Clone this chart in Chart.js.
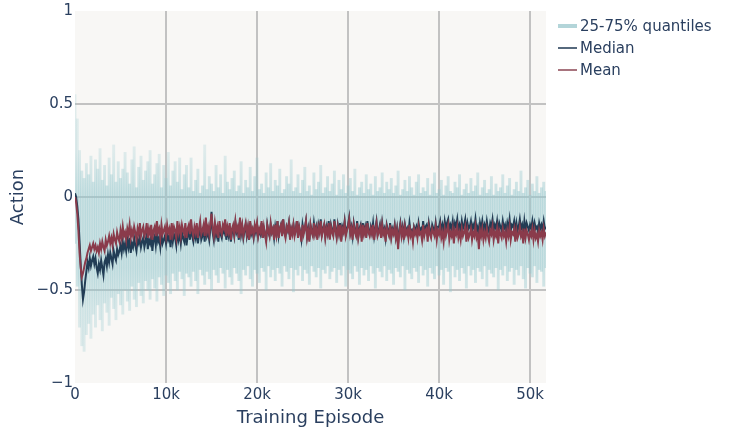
<!DOCTYPE html>
<html>
<head>
<meta charset="utf-8">
<script src="https://cdn.jsdelivr.net/npm/chart.js@4.4.1/dist/chart.umd.min.js"></script>
<style>
  html, body { margin: 0; padding: 0; background: #ffffff; }
  #wrap { position: relative; width: 732px; height: 434px; }
  canvas { display: block; }
</style>
</head>
<body>
<div id="wrap"><canvas id="c" width="732" height="434"></canvas></div>
<script>
// ---------------- data ----------------
const LINE_STEP = 125; // episodes between samples of median / mean
const BAND_STEP = 250; // episodes between samples of the quantile band

const median = [
  0.02,0.00,-0.05,-0.12,-0.24,-0.36,-0.47,-0.55,-0.51,-0.45,-0.40,-0.35,-0.38,-0.33,-0.37,-0.34,-0.32,-0.36,-0.33,-0.38,
  -0.41,-0.36,-0.39,-0.34,-0.38,-0.42,-0.35,-0.33,-0.37,-0.31,-0.35,-0.30,-0.33,-0.36,-0.29,-0.32,-0.34,-0.28,-0.31,-0.29,
  -0.26,-0.30,-0.24,-0.28,-0.25,-0.29,-0.23,-0.27,-0.22,-0.30,-0.25,-0.27,-0.22,-0.26,-0.29,-0.23,-0.25,-0.21,-0.27,-0.24,
  -0.22,-0.27,-0.24,-0.20,-0.28,-0.23,-0.25,-0.21,-0.29,-0.23,-0.21,-0.26,-0.19,-0.24,-0.22,-0.27,-0.20,-0.25,-0.23,-0.21,
  -0.25,-0.19,-0.23,-0.21,-0.27,-0.18,-0.24,-0.20,-0.22,-0.26,-0.17,-0.23,-0.20,-0.25,-0.19,-0.22,-0.24,-0.18,-0.26,-0.21,
  -0.18,-0.23,-0.15,-0.21,-0.24,-0.19,-0.22,-0.17,-0.25,-0.20,-0.16,-0.23,-0.21,-0.18,-0.24,-0.13,-0.21,-0.19,-0.23,-0.17,
  -0.08,-0.19,-0.23,-0.16,-0.21,-0.18,-0.24,-0.15,-0.20,-0.22,-0.17,-0.19,-0.14,-0.23,-0.18,-0.21,-0.16,-0.24,-0.19,-0.17,
  -0.21,-0.14,-0.19,-0.17,-0.23,-0.12,-0.20,-0.16,-0.22,-0.18,-0.15,-0.21,-0.17,-0.23,-0.14,-0.20,-0.18,-0.22,-0.16,-0.19,
  -0.15,-0.21,-0.18,-0.20,-0.14,-0.22,-0.17,-0.20,-0.23,-0.15,-0.19,-0.21,-0.15,-0.19,-0.17,-0.22,-0.16,-0.20,-0.13,-0.21,
  -0.17,-0.15,-0.20,-0.12,-0.19,-0.21,-0.16,-0.18,-0.14,-0.22,-0.17,-0.19,-0.15,-0.20,-0.18,-0.13,-0.21,-0.16,-0.19,-0.23,
  -0.15,-0.19,-0.17,-0.13,-0.21,-0.17,-0.23,-0.15,-0.18,-0.20,-0.14,-0.19,-0.16,-0.22,-0.15,-0.18,-0.12,-0.20,-0.17,-0.15,
  -0.21,-0.16,-0.19,-0.13,-0.22,-0.15,-0.18,-0.20,-0.12,-0.17,-0.21,-0.15,-0.19,-0.14,-0.23,-0.16,-0.18,-0.13,-0.20,-0.17,
  -0.15,-0.11,-0.19,-0.16,-0.21,-0.14,-0.18,-0.20,-0.13,-0.21,-0.17,-0.15,-0.22,-0.14,-0.19,-0.16,-0.21,-0.13,-0.18,-0.20,
  -0.16,-0.19,-0.14,-0.21,-0.17,-0.13,-0.20,-0.18,-0.15,-0.21,-0.14,-0.19,-0.17,-0.22,-0.15,-0.18,-0.20,-0.14,-0.21,-0.17,
  -0.19,-0.15,-0.21,-0.17,-0.25,-0.18,-0.14,-0.20,-0.16,-0.21,-0.15,-0.19,-0.17,-0.20,-0.14,-0.19,-0.18,-0.22,-0.16,-0.18,
  -0.16,-0.20,-0.14,-0.18,-0.17,-0.21,-0.13,-0.19,-0.16,-0.15,-0.21,-0.14,-0.18,-0.20,-0.15,-0.17,-0.19,-0.14,-0.20,-0.16,
  -0.16,-0.13,-0.18,-0.15,-0.19,-0.13,-0.17,-0.14,-0.12,-0.18,-0.15,-0.17,-0.13,-0.19,-0.14,-0.16,-0.12,-0.18,-0.15,-0.18,
  -0.13,-0.17,-0.15,-0.12,-0.19,-0.14,-0.17,-0.16,-0.13,-0.18,-0.15,-0.17,-0.12,-0.18,-0.16,-0.22,-0.14,-0.17,-0.13,-0.18,
  -0.15,-0.18,-0.13,-0.17,-0.19,-0.14,-0.16,-0.12,-0.18,-0.15,-0.17,-0.13,-0.19,-0.14,-0.16,-0.18,-0.13,-0.17,-0.15,-0.19,
  -0.14,-0.17,-0.12,-0.18,-0.15,-0.16,-0.13,-0.19,-0.14,-0.18,-0.16,-0.12,-0.17,-0.15,-0.20,-0.13,-0.18,-0.14,-0.16,-0.18,
  -0.15,-0.17,-0.13,-0.18,-0.14,-0.17,-0.16,-0.19,-0.14,-0.17,-0.15,-0.18,-0.13,-0.17,-0.16
];

const mean = [
  0.00,-0.03,-0.09,-0.18,-0.30,-0.38,-0.43,-0.41,-0.38,-0.35,-0.33,-0.30,-0.28,-0.26,-0.29,-0.27,-0.25,-0.28,-0.26,-0.29,
  -0.27,-0.30,-0.25,-0.28,-0.24,-0.27,-0.29,-0.23,-0.26,-0.24,-0.21,-0.25,-0.22,-0.26,-0.20,-0.23,-0.25,-0.19,-0.22,-0.24,
  -0.18,-0.22,-0.16,-0.21,-0.19,-0.23,-0.17,-0.20,-0.15,-0.22,-0.18,-0.21,-0.16,-0.19,-0.23,-0.17,-0.20,-0.14,-0.21,-0.18,
  -0.16,-0.21,-0.19,-0.14,-0.22,-0.17,-0.20,-0.15,-0.23,-0.18,-0.16,-0.21,-0.13,-0.19,-0.17,-0.22,-0.15,-0.20,-0.18,-0.16,
  -0.21,-0.15,-0.19,-0.17,-0.23,-0.14,-0.20,-0.16,-0.18,-0.22,-0.13,-0.19,-0.16,-0.21,-0.15,-0.18,-0.20,-0.14,-0.22,-0.17,
  -0.15,-0.20,-0.12,-0.18,-0.21,-0.16,-0.19,-0.14,-0.22,-0.17,-0.13,-0.20,-0.18,-0.15,-0.21,-0.11,-0.19,-0.16,-0.20,-0.14,
  -0.09,-0.17,-0.21,-0.14,-0.19,-0.16,-0.22,-0.13,-0.18,-0.20,-0.15,-0.17,-0.12,-0.21,-0.16,-0.19,-0.14,-0.23,-0.17,-0.15,
  -0.20,-0.13,-0.18,-0.16,-0.22,-0.11,-0.19,-0.15,-0.21,-0.17,-0.14,-0.20,-0.16,-0.23,-0.13,-0.19,-0.17,-0.21,-0.15,-0.18,
  -0.14,-0.21,-0.17,-0.19,-0.13,-0.22,-0.16,-0.20,-0.24,-0.15,-0.18,-0.21,-0.14,-0.19,-0.17,-0.23,-0.15,-0.20,-0.13,-0.22,
  -0.17,-0.15,-0.21,-0.12,-0.19,-0.22,-0.16,-0.18,-0.14,-0.23,-0.17,-0.20,-0.15,-0.21,-0.18,-0.13,-0.22,-0.16,-0.19,-0.24,
  -0.15,-0.20,-0.17,-0.13,-0.22,-0.18,-0.24,-0.15,-0.19,-0.21,-0.14,-0.20,-0.17,-0.23,-0.16,-0.19,-0.13,-0.21,-0.18,-0.15,
  -0.22,-0.17,-0.20,-0.14,-0.23,-0.16,-0.19,-0.21,-0.13,-0.18,-0.22,-0.16,-0.20,-0.15,-0.24,-0.17,-0.19,-0.14,-0.21,-0.18,
  -0.16,-0.12,-0.20,-0.17,-0.23,-0.15,-0.19,-0.21,-0.14,-0.22,-0.18,-0.16,-0.24,-0.15,-0.20,-0.17,-0.22,-0.14,-0.19,-0.21,
  -0.17,-0.20,-0.15,-0.23,-0.18,-0.14,-0.21,-0.19,-0.16,-0.22,-0.15,-0.20,-0.18,-0.24,-0.16,-0.19,-0.21,-0.15,-0.22,-0.18,
  -0.20,-0.16,-0.22,-0.18,-0.28,-0.19,-0.15,-0.21,-0.17,-0.23,-0.16,-0.20,-0.18,-0.22,-0.15,-0.21,-0.19,-0.24,-0.17,-0.20,
  -0.18,-0.22,-0.16,-0.20,-0.19,-0.23,-0.15,-0.21,-0.18,-0.17,-0.24,-0.16,-0.20,-0.22,-0.17,-0.19,-0.21,-0.16,-0.23,-0.18,
  -0.20,-0.16,-0.22,-0.19,-0.24,-0.17,-0.21,-0.18,-0.15,-0.23,-0.19,-0.21,-0.17,-0.25,-0.18,-0.20,-0.16,-0.22,-0.19,-0.23,
  -0.17,-0.21,-0.19,-0.16,-0.24,-0.18,-0.22,-0.20,-0.17,-0.23,-0.19,-0.21,-0.16,-0.22,-0.20,-0.28,-0.18,-0.21,-0.17,-0.23,
  -0.19,-0.22,-0.17,-0.21,-0.24,-0.18,-0.20,-0.16,-0.23,-0.19,-0.21,-0.17,-0.25,-0.18,-0.20,-0.22,-0.17,-0.21,-0.19,-0.24,
  -0.18,-0.21,-0.16,-0.23,-0.19,-0.20,-0.17,-0.24,-0.18,-0.22,-0.20,-0.16,-0.21,-0.19,-0.25,-0.17,-0.22,-0.18,-0.20,-0.23,
  -0.19,-0.21,-0.17,-0.23,-0.18,-0.22,-0.20,-0.24,-0.18,-0.21,-0.19,-0.23,-0.17,-0.21,-0.19
];

const q75 = [
  0.55,0.42,0.25,0.14,0.10,0.18,0.12,0.22,0.08,0.20,
  0.15,0.26,0.09,0.17,0.06,0.21,0.12,0.28,0.08,0.19,
  0.10,0.15,0.24,0.13,0.07,0.20,0.27,0.05,0.16,0.22,
  0.09,0.14,0.19,0.25,0.07,0.12,0.18,0.23,0.05,0.17,
  0.10,0.24,0.06,0.14,0.19,0.08,0.21,0.04,0.12,0.17,
  0.05,0.21,0.03,0.09,0.15,0.02,0.06,0.28,0.04,0.11,
  0.07,0.03,0.17,0.05,0.12,0.02,0.22,0.08,0.04,0.10,
  0.14,0.03,0.06,0.19,0.02,0.09,0.05,0.16,0.03,0.11,
  0.21,0.04,0.07,0.02,0.13,0.05,0.18,0.03,0.09,0.06,
  0.15,0.02,0.04,0.11,0.07,0.20,0.03,0.05,0.12,0.02,
  0.09,0.16,0.03,0.06,0.01,0.13,0.04,0.08,0.17,0.02,
  0.05,0.11,0.03,0.07,0.14,0.01,0.09,0.04,0.12,0.02,
  0.06,0.10,0.03,0.15,0.01,0.05,0.08,0.02,0.12,0.04,
  0.07,0.01,0.11,0.03,0.05,0.13,0.02,0.08,0.04,0.10,
  0.02,0.06,0.14,0.01,0.04,0.09,0.03,0.11,0.05,0.01,
  0.08,0.12,0.02,0.05,0.03,0.10,0.01,0.07,0.13,0.02,
  0.04,0.09,0.01,0.06,0.11,0.03,0.02,0.08,0.05,0.12,
  0.01,0.04,0.07,0.02,0.10,0.03,0.06,0.13,0.01,0.05,
  0.09,0.02,0.04,0.11,0.01,0.07,0.03,0.05,0.12,0.02,
  0.06,0.10,0.01,0.04,0.08,0.03,0.14,0.02,0.05,0.09,
  0.01,0.07,0.03,0.11,0.02,0.05,0.08,0.03
];

const q25 = [
  -0.25,-0.48,-0.70,-0.80,-0.83,-0.74,-0.68,-0.76,-0.63,-0.70,
  -0.58,-0.66,-0.72,-0.57,-0.62,-0.69,-0.54,-0.60,-0.66,-0.52,
  -0.58,-0.63,-0.50,-0.56,-0.61,-0.48,-0.55,-0.59,-0.46,-0.53,
  -0.57,-0.45,-0.50,-0.55,-0.44,-0.49,-0.56,-0.43,-0.47,-0.53,
  -0.42,-0.46,-0.52,-0.41,-0.45,-0.50,-0.40,-0.44,-0.53,-0.41,
  -0.43,-0.48,-0.40,-0.45,-0.52,-0.39,-0.42,-0.47,-0.40,-0.44,
  -0.50,-0.39,-0.42,-0.46,-0.38,-0.41,-0.49,-0.39,-0.43,-0.47,
  -0.38,-0.41,-0.45,-0.52,-0.39,-0.42,-0.37,-0.44,-0.48,-0.39,
  -0.41,-0.46,-0.38,-0.40,-0.50,-0.37,-0.43,-0.39,-0.45,-0.38,
  -0.41,-0.48,-0.37,-0.40,-0.44,-0.38,-0.51,-0.39,-0.42,-0.37,
  -0.45,-0.39,-0.41,-0.47,-0.37,-0.40,-0.43,-0.38,-0.49,-0.39,
  -0.41,-0.37,-0.44,-0.40,-0.38,-0.46,-0.39,-0.42,-0.37,-0.48,
  -0.39,-0.41,-0.44,-0.37,-0.40,-0.47,-0.38,-0.42,-0.39,-0.45,
  -0.37,-0.41,-0.49,-0.38,-0.40,-0.43,-0.37,-0.45,-0.39,-0.41,
  -0.47,-0.38,-0.40,-0.43,-0.37,-0.50,-0.39,-0.41,-0.44,-0.38,
  -0.40,-0.46,-0.37,-0.42,-0.39,-0.48,-0.38,-0.41,-0.44,-0.37,
  -0.42,-0.39,-0.47,-0.38,-0.40,-0.51,-0.37,-0.43,-0.39,-0.45,
  -0.38,-0.41,-0.49,-0.37,-0.42,-0.39,-0.46,-0.38,-0.40,-0.44,
  -0.37,-0.48,-0.39,-0.41,-0.43,-0.38,-0.50,-0.39,-0.42,-0.37,
  -0.45,-0.40,-0.38,-0.47,-0.39,-0.42,-0.37,-0.44,-0.49,-0.38,
  -0.41,-0.43,-0.37,-0.46,-0.39,-0.40,-0.48,-0.38
];

const xTickValues = [0, 10000, 20000, 30000, 40000, 50000];
const xTickLabels = ['0', '10k', '20k', '30k', '40k', '50k'];
const yTickValues = [-1, -0.5, 0, 0.5, 1];
const yTickLabels = ['\u22121', '\u22120.5', '0', '0.5', '1'];

const seriesNames = ['25-75% quantiles', 'Median', 'Mean'];
const xTitle = 'Training Episode';
const yTitle = 'Action';

// ---------------- styling ----------------
const TEXT = '#2a3f5f';
const FONT = "'DejaVu Sans', Verdana, sans-serif";
const PLOT_BG = '#f8f7f5';
const GRID = '#c2c2c2';
const MEDIAN_C = '#223d55';
const MEAN_C = '#8a3b4b';

const lineEpisodes = median.map((_, i) => i * LINE_STEP);
const bandEpisodes = q75.map((_, i) => i * BAND_STEP);
const bandData = bandEpisodes.map((e, i) => ({ x: e, y: [q25[i], q75[i]] }));
const medianData = lineEpisodes.map((e, i) => ({ x: e, y: median[i] }));
const meanData = lineEpisodes.map((e, i) => ({ x: e, y: mean[i] }));

Chart.defaults.font.family = FONT;
Chart.defaults.color = TEXT;

// band colour: denser near the body of the band, fading toward the spike tips
function bandFill(context) {
  const chart = context.chart;
  const a = chart.chartArea;
  const ys = chart.scales.y;
  if (!a || !ys) return 'rgba(150,200,206,0.45)';
  const g = chart.ctx.createLinearGradient(0, a.top, 0, a.bottom);
  const stop = v => (ys.getPixelForValue(v) - a.top) / (a.bottom - a.top);
  g.addColorStop(0, 'rgba(150,200,206,0.22)');
  g.addColorStop(stop(0.25), 'rgba(150,200,206,0.26)');
  g.addColorStop(stop(0.02), 'rgba(150,200,206,0.48)');
  g.addColorStop(stop(-0.38), 'rgba(150,200,206,0.48)');
  g.addColorStop(stop(-0.6), 'rgba(150,200,206,0.32)');
  g.addColorStop(1, 'rgba(150,200,206,0.25)');
  return g;
}

const plotBg = {
  id: 'plotBg',
  beforeDraw(chart) {
    const { ctx, chartArea: a } = chart;
    ctx.save();
    ctx.fillStyle = '#ffffff';
    ctx.fillRect(0, 0, chart.width, chart.height);
    ctx.fillStyle = PLOT_BG;
    ctx.fillRect(a.left, a.top, a.right - a.left, a.bottom - a.top);
    ctx.restore();
  }
};

const legendSamples = [
  { color: '#b3d5d9', width: 4 },
  { color: '#56697d', width: 2 },
  { color: '#a8747e', width: 2 }
];

const sideLegend = {
  id: 'sideLegend',
  afterDraw(chart) {
    const { ctx, chartArea: a } = chart;
    const x0 = a.right + 12, x1 = x0 + 19, tx = x1 + 3;
    ctx.save();
    ctx.font = '15px ' + FONT;
    ctx.textBaseline = 'middle';
    ctx.textAlign = 'left';
    seriesNames.forEach((name, i) => {
      const y = a.top + 15 + i * 22;
      ctx.strokeStyle = legendSamples[i].color;
      ctx.lineWidth = legendSamples[i].width;
      ctx.beginPath();
      ctx.moveTo(x0, y);
      ctx.lineTo(x1, y);
      ctx.stroke();
      ctx.fillStyle = TEXT;
      ctx.fillText(name, tx, y + 1);
    });
    ctx.restore();
  }
};

new Chart(document.getElementById('c'), {
  type: 'bar',
  data: {
    datasets: [
      {
        type: 'line', label: seriesNames[2], data: meanData, order: 1,
        borderColor: MEAN_C, borderWidth: 2, pointRadius: 0, tension: 0, fill: false
      },
      {
        type: 'line', label: seriesNames[1], data: medianData, order: 2,
        borderColor: MEDIAN_C, borderWidth: 2, pointRadius: 0, tension: 0, fill: false
      },
      {
        type: 'bar', label: seriesNames[0], data: bandData, order: 3,
        backgroundColor: bandFill, borderWidth: 0,
        categoryPercentage: 1.0, barPercentage: 1.0
      }
    ]
  },
  options: {
    responsive: false,
    animation: false,
    devicePixelRatio: 1,
    events: [],
    layout: { padding: { top: 10, right: 186, bottom: 0, left: 0 } },
    plugins: { legend: { display: false }, tooltip: { enabled: false } },
    scales: {
      x: {
        type: 'linear',
        min: 0,
        max: lineEpisodes[lineEpisodes.length - 1],
        offset: false,
        afterBuildTicks(s) { s.ticks = xTickValues.map(v => ({ value: v })); },
        afterFit(s) { s.height = 51; },
        ticks: {
          autoSkip: false, maxRotation: 0, padding: 3,
          font: { size: 15 }, color: TEXT,
          callback(v, i) { return xTickLabels[i]; }
        },
        grid: {
          offset: false,
          drawTicks: false,
          lineWidth: 2,
          color: c => (c.tick && c.tick.value === 0) ? 'rgba(0,0,0,0)' : GRID
        },
        border: { display: false },
        title: {
          display: true, text: xTitle, color: TEXT,
          font: { size: 18 }, padding: { top: 0, bottom: 5 }
        }
      },
      y: {
        type: 'linear',
        min: -1, max: 1,
        afterBuildTicks(s) { s.ticks = yTickValues.map(v => ({ value: v })); },
        afterFit(s) { s.width = 75; },
        ticks: {
          autoSkip: false, padding: 2,
          font: { size: 15 }, color: TEXT,
          callback(v, i) { return yTickLabels[i]; }
        },
        grid: {
          drawTicks: false,
          lineWidth: 2,
          color: c => (c.tick && Math.abs(c.tick.value) === 1) ? 'rgba(0,0,0,0)' : GRID
        },
        border: { display: false },
        title: {
          display: true, text: yTitle, color: TEXT,
          font: { size: 18 }, padding: { top: 8, bottom: 0 }
        }
      }
    }
  },
  plugins: [plotBg, sideLegend]
});
</script>
</body>
</html>
